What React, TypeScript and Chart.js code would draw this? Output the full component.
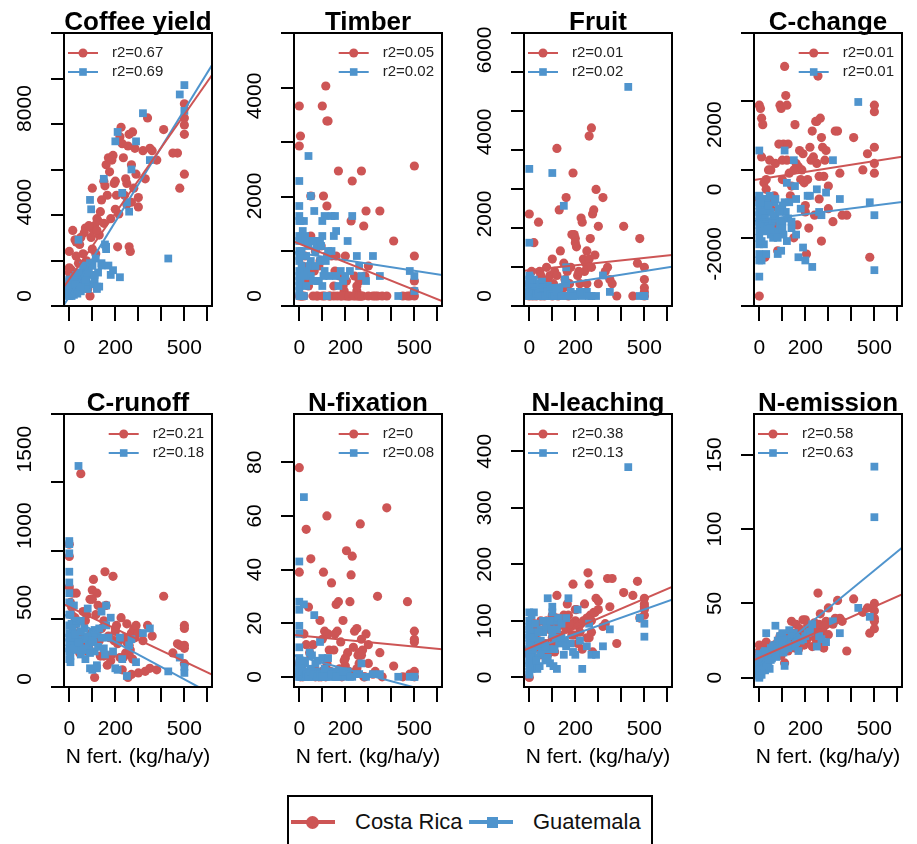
import React, { useEffect, useRef } from 'react';
import { Chart, registerables } from 'chart.js';
Chart.register(...registerables);

const FONT = '"Liberation Sans", Arial, Helvetica, sans-serif';
const RED = '#CD5555';
const BLUE = '#4F94CD';

// N fertilisation (kg/ha/y) of each farm
const crX = [0,0,5,10,15,20,25,30,40,45,50,60,65,70,80,90,95,100,105,110,115,120,125,130,140,150,155,160,170,180,190,195,200,205,210,220,225,230,240,245,250,255,260,265,270,275,280,290,300,320,340,350,380,410,470,480,500,500,500,500,
  0,10,30,50,75,85,100,120,135,150,165,175,185,200,215,235,250,260,270,285,300,330,360,450,500];
const gtX = [0,0,0,0,0,0,0,0,0,0,5,5,10,10,15,20,20,25,30,30,35,40,45,50,50,55,60,65,70,75,80,85,90,95,100,100,105,110,115,120,125,130,140,150,155,160,170,180,200,210,230,250,270,290,320,350,430,480,500,500,
  0,0,0,0,0,5,10,15,20,25,30,40,50,60,70,80,90,100,110,120,140,160,190,220,260];

const coffeeCR = [1900,1000,800,1100,2800,600,2400,2300,1400,2200,400,1800,2700,2900,300,0,2500,4600,2800,3000,1800,3300,3200,2600,4100,4900,4700,5600,5900,3300,6000,4800,3700,4300,2100,6800,7200,6500,4300,5000,3900,6400,2100,1900,4000,7000,4600,5200,4200,6200,7600,6300,5800,7100,6100,4600,8200,7600,7300,5200,
  1200,600,1700,2500,1500,3000,2000,2800,3600,3100,4300,5300,5800,4900,3500,5900,4800,6900,5600,6300,3800,5000,6200,6100,6900];
const coffeeGT = [100,300,0,500,200,700,50,400,150,250,600,100,0,350,200,800,50,500,300,700,100,2400,900,600,200,1000,400,800,1200,600,300,1100,4100,3700,900,1300,500,700,1600,300,1000,400,1300,5000,2200,2100,1300,900,6600,7000,4400,4000,5400,6600,7800,5800,1600,8600,9000,7900,
  0,200,600,300,0,400,100,700,300,500,900,1000,400,1300,700,1000,1400,1300,900,400,1400,2000,1100,800,3600];
const timberCR = [3800,3000,3200,0,600,0,800,500,200,1100,2000,0,500,900,0,700,1000,3800,2000,0,4200,3500,3500,0,800,0,500,800,2500,0,200,100,0,300,0,0,1500,2300,400,0,100,0,300,0,2500,0,1400,1700,600,0,0,1700,0,1100,0,0,2600,800,300,0,
  0,0,300,1200,0,600,0,1800,0,200,0,400,0,800,0,0,200,0,0,400,0,0,0,0,100];
const timberGT = [2300,1800,1500,1200,900,700,400,200,100,0,1500,300,1200,600,1100,1500,0,1100,500,800,1100,2800,600,2000,400,1100,300,1700,900,1000,1100,300,700,1000,1500,1200,400,1600,700,0,900,400,1600,1200,1600,1300,200,500,400,1100,1600,800,400,300,800,400,0,500,400,100,
  1600,500,300,800,1100,0,900,1300,400,1200,200,1000,700,1100,600,300,1100,200,500,800,900,400,300,500,600];
const fruitCR = [2000,0,100,300,0,1300,200,0,1800,600,500,100,0,300,400,500,200,0,300,600,100,3600,0,2100,200,800,400,2400,0,700,3000,1500,1400,1200,500,300,1900,1800,600,800,1100,700,3900,1400,4100,2000,2100,2600,1700,2400,700,400,0,1700,800,1400,700,400,200,0,
  300,600,200,0,700,300,900,500,1100,200,600,300,1500,1300,600,900,300,900,700,1000,300,600,300,0,100];
const fruitGT = [3100,1300,500,300,100,0,200,400,0,50,450,0,200,100,0,400,50,300,0,200,100,0,300,100,0,350,200,0,100,0,250,0,100,50,3000,0,200,0,100,0,50,200,0,2200,400,700,0,100,0,50,0,100,0,0,500,100,5100,0,0,0,
  0,100,200,300,0,100,0,200,100,0,50,100,0,200,0,100,50,0,0,100,0,300,0,100,0];
const cChangeCR = [2600,-3300,2500,2200,2000,200,-2100,0,600,900,600,-400,-200,800,-1900,2600,2500,900,1400,3800,2900,2600,1400,500,100,-1500,2000,800,700,300,1100,200,-500,-2000,300,1300,900,1800,-800,2100,800,3500,-300,2200,1600,1300,400,1200,100,-1000,1800,500,-800,1600,1100,-2100,2600,2400,1300,500,
  -300,1000,300,-600,-1100,1400,300,900,-200,600,-1100,1200,600,-700,-1200,1000,2100,400,-1600,900,-600,1800,-800,600,800];
const cChangeGT = [1200,-200,-500,-700,-1000,-1300,-1700,-2000,-2700,-400,-900,-1200,-2200,-600,-300,-1700,-800,-500,-1100,-300,-600,-1000,-200,-1400,-700,-1000,-1500,-400,-900,-1300,-2000,-600,-1100,-1900,-500,-1000,-1400,1200,-700,200,-900,-400,-1200,900,100,-1400,-2100,-600,-2200,-200,-2400,0,-800,-100,900,-300,2700,-400,-2500,-800,
  -1500,-800,-200,-2200,-1100,-400,-1600,-700,-1300,-900,-2000,-500,-1200,-800,-300,-1500,-700,-1200,-400,-1600,-1000,-300,-1800,-200,-700];
const cRunoffCR = [880,800,500,420,560,300,400,560,200,170,1340,440,230,380,180,520,300,580,650,10,420,560,480,250,330,150,700,480,280,120,670,250,310,350,230,140,400,60,270,170,360,10,220,190,300,130,330,350,40,250,350,70,60,540,230,220,350,330,200,100,
  600,470,360,280,420,200,520,300,150,380,90,270,160,330,250,140,240,160,30,270,300,50,280,170,220];
const cRunoffGT = [900,880,820,700,630,500,420,350,270,200,150,110,360,250,300,200,480,280,210,360,190,1390,230,380,160,260,200,330,260,190,460,220,70,250,60,300,240,180,290,70,210,330,440,200,160,480,270,400,70,60,130,20,260,110,300,330,50,140,80,40,
  560,300,180,240,130,420,270,330,200,290,380,240,310,190,130,280,170,250,320,90,270,350,180,270,220];
const nFixCR = [78,39,0,2,0,16,1,55,26,9,44,12,3,0,1,21,0,2,39,17,0,60,16,10,35,1,16,27,28,13,21,6,4,47,9,28,38,45,17,2,18,8,5,57,14,10,0,16,12,1,30,9,63,4,28,1,17,14,13,0,
  5,3,12,8,2,0,14,5,2,10,17,3,0,7,2,11,3,9,8,0,5,2,0,0,2];
const nFixGT = [43,28,25,19,16,7,5,3,1,0,6,2,0,4,1,67,27,5,0,2,1,0,9,3,0,8,1,23,0,2,6,1,13,0,7,1,0,2,0,1,7,2,0,1,0,2,0,1,0,2,0,1,5,0,1,1,0,0,0,0,
  11,4,2,0,1,3,0,2,6,0,1,0,2,1,5,0,1,0,3,0,1,0,2,0,1];
const nLeachCR = [40,0,60,75,30,95,80,55,65,50,100,45,85,60,40,95,55,110,60,45,80,145,90,70,95,105,60,85,110,90,165,75,100,120,60,80,95,50,130,100,70,185,165,110,80,45,115,140,135,90,175,125,60,150,170,105,140,130,120,110,
  50,70,90,40,100,85,70,105,75,110,130,95,75,120,90,100,105,70,100,115,120,95,175,145,125];
const nLeachGT = [115,90,70,50,30,20,10,5,75,40,60,25,15,80,45,115,70,20,35,55,15,60,20,85,40,50,80,60,30,90,140,50,25,85,125,115,20,100,70,15,105,60,95,40,65,55,140,60,40,120,15,55,40,40,55,85,372,105,95,72,
  100,60,25,45,85,35,110,50,70,95,30,80,65,100,55,35,100,75,50,85,70,105,45,65,95];
const nEmisCR = [22,15,18,20,12,20,14,21,17,19,20,16,22,18,24,28,15,25,20,10,27,22,18,30,38,24,20,36,19,28,39,22,30,25,35,28,33,21,37,26,30,57,35,43,25,32,20,38,47,36,52,40,18,53,47,30,50,45,40,33,
  18,14,24,20,22,17,28,25,21,30,24,33,27,39,29,31,33,36,30,35,29,40,38,44,38];
const nEmisGT = [2,5,8,12,16,0,3,10,6,1,4,14,7,2,10,9,17,5,30,12,8,11,6,15,20,13,18,22,35,14,25,19,28,21,30,24,17,8,23,26,20,32,22,30,21,27,18,25,28,30,36,21,26,24,38,30,47,41,142,108,
  4,9,13,2,7,11,5,15,8,18,10,14,12,21,16,20,24,25,19,22,28,24,26,31,28];

const titles = ['Coffee yield', 'Timber', 'Fruit', 'C-change', 'C-runoff', 'N-fixation', 'N-leaching', 'N-emission'];
const r2CR = ['r2=0.67', 'r2=0.05', 'r2=0.01', 'r2=0.01', 'r2=0.21', 'r2=0', 'r2=0.38', 'r2=0.58'];
const r2GT = ['r2=0.69', 'r2=0.02', 'r2=0.02', 'r2=0.01', 'r2=0.18', 'r2=0.08', 'r2=0.13', 'r2=0.63'];
const interceptCR = [720, 1045, 631, 313, 470, 15.4, 52, 13.5];
const slopeCR = [14.05, -1.846, 0.596, 1.121, -0.712, -0.00824, 0.174, 0.0687];
const interceptGT = [-18, 857, 166, -950, 402, 7.5, 48, 8.7];
const slopeGT = [15.93, -0.704, 0.885, 0.899, -0.808, -0.0229, 0.1446, 0.127];
const yMin = [-427, -200, -244, -3608, -52, -3.8, -17, -6.2];
const yMax = [11223, 5260, 6415, 4833, 1729, 98, 466, 177.4];
const yStep = [2000, 1000, 1000, 2000, 500, 20, 100, 50];
const yTickLabels = [[0, 4000, 8000], [0, 2000, 4000], [0, 2000, 4000, 6000], [-2000, 0, 2000], [0, 500, 1000, 1500], [0, 20, 40, 60, 80], [0, 100, 200, 300, 400], [0, 50, 100, 150]];
const legendSide = ['left', 'right', 'left', 'right', 'right', 'right', 'left', 'left'];
const xMin = -23;
const xMax = 620;
const xTickLabels = [0, 200, 500];
const xTitle = 'N fert. (kg/ha/y)';

const crSeries = [coffeeCR, timberCR, fruitCR, cChangeCR, cRunoffCR, nFixCR, nLeachCR, nEmisCR];
const gtSeries = [coffeeGT, timberGT, fruitGT, cChangeGT, cRunoffGT, nFixGT, nLeachGT, nEmisGT];

function makeDecor(i: number) {
  return {
    id: 'decor',
    afterDraw(chart: any) {
      const { ctx, chartArea: a } = chart;
      ctx.save();
      ctx.strokeStyle = '#000';
      ctx.lineWidth = 2;
      ctx.strokeRect(a.left, a.top, a.right - a.left, a.bottom - a.top);
      // title
      ctx.fillStyle = '#000';
      ctx.font = `bold 26px ${FONT}`;
      ctx.textAlign = 'center';
      ctx.textBaseline = 'alphabetic';
      ctx.fillText(titles[i], (a.left + a.right) / 2, 30);
      // y tick labels (rotated)
      const ys = chart.scales.y;
      ctx.font = `21px ${FONT}`;
      ctx.textBaseline = 'middle';
      ctx.textAlign = 'center';
      for (const v of yTickLabels[i]) {
        const py = ys.getPixelForValue(v);
        ctx.save();
        ctx.translate(25, py);
        ctx.rotate(-Math.PI / 2);
        ctx.fillText(String(v), 0, 0);
        ctx.restore();
      }
      // panel legend
      ctx.font = `15px ${FONT}`;
      const texts = [r2CR[i], r2GT[i]];
      const tw = Math.max(...texts.map((t: string) => ctx.measureText(t).width));
      let lineX0: number, textX: number;
      if (legendSide[i] === 'left') {
        lineX0 = a.left + 4;
        textX = a.left + 48;
      } else {
        textX = a.right - 8 - tw;
        lineX0 = textX - 44;
      }
      const colors = [RED, BLUE];
      for (let k = 0; k < 2; k++) {
        const y = a.top + 20 + k * 19;
        ctx.strokeStyle = colors[k];
        ctx.lineWidth = 2;
        ctx.beginPath();
        ctx.moveTo(lineX0, y);
        ctx.lineTo(lineX0 + 30, y);
        ctx.stroke();
        ctx.fillStyle = colors[k];
        if (k === 0) {
          ctx.beginPath();
          ctx.arc(lineX0 + 15, y, 4.5, 0, Math.PI * 2);
          ctx.fill();
        } else {
          ctx.fillRect(lineX0 + 15 - 3.8, y - 3.8, 7.6, 7.6);
        }
        ctx.fillStyle = '#222';
        ctx.textAlign = 'left';
        ctx.textBaseline = 'middle';
        ctx.fillText(texts[k], textX, y);
      }
      ctx.restore();
    },
  };
}

function Panel({ i }: { i: number }) {
  const ref = useRef<HTMLCanvasElement>(null);
  const row = i < 4 ? 0 : 1;
  const col = i % 4;
  const H = row === 0 ? 381 : 400;
  useEffect(() => {
    const canvas = ref.current;
    if (!canvas) return;
    const crPts = crX.map((x, k) => ({ x, y: crSeries[i][k] }));
    const gtPts = gtX.map((x, k) => ({ x, y: gtSeries[i][k] }));
    const lineCR = [xMin, xMax].map((x) => ({ x, y: interceptCR[i] + slopeCR[i] * x }));
    const lineGT = [xMin, xMax].map((x) => ({ x, y: interceptGT[i] + slopeGT[i] * x }));
    const tickFont = { family: FONT, size: 21 };
    const chart = new Chart(canvas, {
      type: 'scatter',
      data: {
        datasets: [
          { label: 'fitCR', data: lineCR, showLine: true, borderColor: RED, borderWidth: 2, pointRadius: 0, order: 0, clip: 0 } as any,
          { label: 'fitGT', data: lineGT, showLine: true, borderColor: BLUE, borderWidth: 2, pointRadius: 0, order: 0, clip: 0 } as any,
          { label: 'Guatemala', data: gtPts, pointStyle: 'rect', pointRadius: 5.5, pointBackgroundColor: BLUE, pointBorderColor: BLUE, pointBorderWidth: 0, order: 1 } as any,
          { label: 'Costa Rica', data: crPts, pointStyle: 'circle', pointRadius: 4.6, pointBackgroundColor: RED, pointBorderColor: RED, pointBorderWidth: 0, order: 2 } as any,
        ],
      },
      options: {
        animation: false,
        responsive: false,
        events: [],
        layout: { padding: { top: 33, right: 18, left: 0, bottom: 0 } },
        plugins: {
          legend: { display: false },
          tooltip: { enabled: false },
        },
        scales: {
          x: {
            type: 'linear',
            position: 'bottom',
            min: xMin,
            max: xMax,
            ticks: {
              stepSize: 100,
              includeBounds: false,
              autoSkip: false,
              maxRotation: 0,
              minRotation: 0,
              padding: 15,
              color: '#000',
              font: tickFont,
              callback: (v: any) => (xTickLabels.includes(Number(v)) ? String(v) : ''),
            },
            grid: { drawOnChartArea: false, drawTicks: true, tickLength: 15, color: '#000', lineWidth: 2 },
            border: { display: false },
            title: {
              display: row === 1,
              text: xTitle,
              color: '#000',
              font: { family: FONT, size: 21 },
              padding: { top: 0, bottom: 11 },
            },
            afterFit: (s: any) => {
              s.height = H - 306;
            },
          } as any,
          y: {
            type: 'linear',
            min: yMin[i],
            max: yMax[i],
            ticks: {
              stepSize: yStep[i],
              includeBounds: false,
              autoSkip: false,
              display: false,
            },
            grid: { drawOnChartArea: false, drawTicks: true, tickLength: 13, color: '#000', lineWidth: 2 },
            border: { display: false },
            afterFit: (s: any) => {
              s.width = 64;
            },
          } as any,
        },
      },
      plugins: [makeDecor(i) as any],
    });
    return () => chart.destroy();
  }, []);
  return (
    <canvas
      ref={ref}
      width={230}
      height={H}
      style={{ position: 'absolute', left: col * 230, top: row * 381, width: 230, height: H, display: 'block' }}
    />
  );
}

export default function App() {
  const txt: React.CSSProperties = { position: 'absolute', top: 809, fontSize: 22, lineHeight: '26px', fontFamily: FONT, color: '#111', whiteSpace: 'nowrap' };
  return (
    <div style={{ position: 'fixed', left: 0, top: 0, width: 917, height: 844, background: '#fff', overflow: 'hidden' }}>
      {titles.map((_, i) => (
        <Panel key={i} i={i} />
      ))}
      <div style={{ position: 'absolute', left: 287, top: 795, width: 366, height: 70, border: '2px solid #000', boxSizing: 'border-box' }} />
      <div style={{ position: 'absolute', left: 291, top: 820, width: 44, height: 4, background: RED }} />
      <div style={{ position: 'absolute', left: 305.5, top: 815.5, width: 13, height: 13, borderRadius: '50%', background: RED }} />
      <div style={{ ...txt, left: 355 }}>Costa Rica</div>
      <div style={{ position: 'absolute', left: 469, top: 820, width: 44, height: 4, background: BLUE }} />
      <div style={{ position: 'absolute', left: 486.5, top: 816.5, width: 11, height: 11, background: BLUE }} />
      <div style={{ ...txt, left: 533 }}>Guatemala</div>
    </div>
  );
}
